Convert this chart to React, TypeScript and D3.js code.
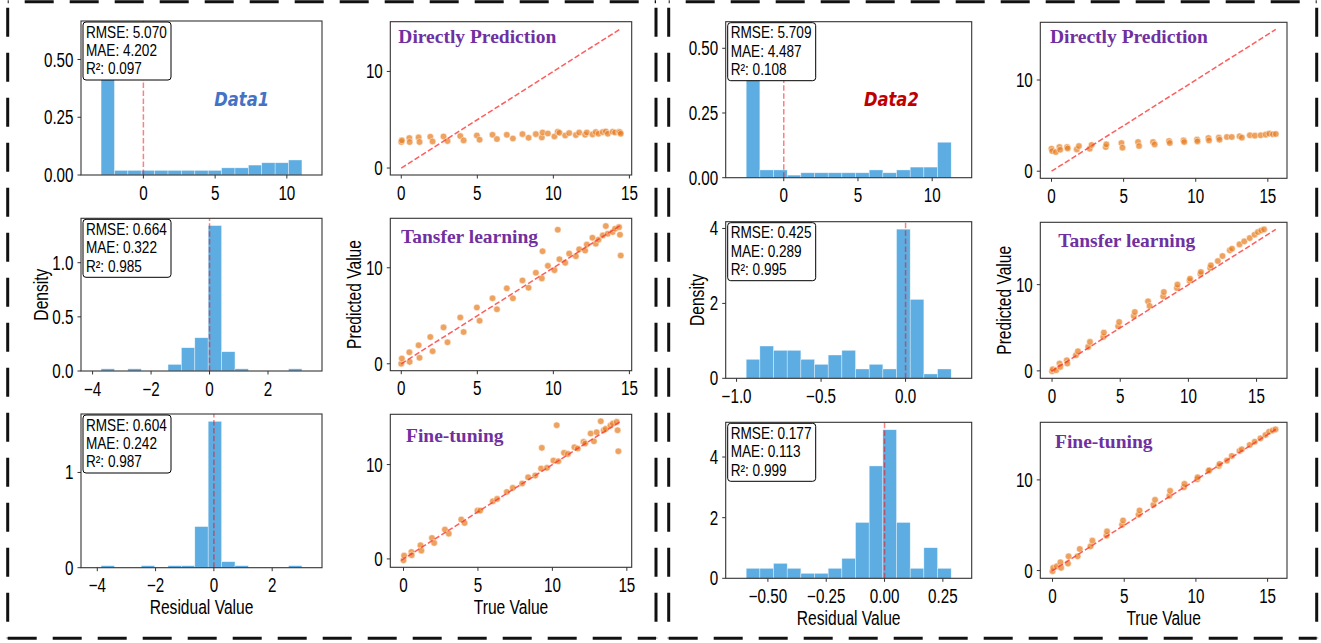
import React from 'react';
import * as d3 from 'd3';

// ---------------- DATA ----------------
// Data1 – true values shared by the three scatter panels
const trueValues1 = [0, 0.04, 0.53, 0.55, 1.14, 1.2, 1.91, 2.06, 2.78, 3.04, 3.88, 4.1, 4.97, 5.15, 6.0, 6.29, 6.94, 7.34, 7.97, 8.37, 8.85, 9.24, 9.29, 9.64, 10.07, 10.29, 10.4, 10.78, 11.04, 11.48, 11.7, 12.09, 12.2, 12.57, 12.79, 12.97, 13.25, 13.45, 13.58, 13.9, 14.06, 14.32, 14.38, 14.43];
const predDirect1 = [2.69, 2.86, 3.10, 2.69, 3.17, 2.69, 3.24, 2.75, 3.27, 2.79, 3.31, 2.86, 3.37, 2.93, 3.44, 3.00, 3.44, 3.06, 3.51, 3.13, 3.51, 3.17, 3.68, 3.58, 3.27, 3.75, 3.65, 3.37, 3.62, 3.41, 3.68, 3.44, 3.68, 3.48, 3.72, 3.55, 3.72, 3.79, 3.55, 3.75, 3.68, 3.75, 3.70, 3.55];
const predTransfer1 = [0.0, 0.55, 1.20, 0.20, 1.93, 0.62, 2.79, 1.31, 3.79, 2.24, 4.82, 3.31, 5.86, 4.48, 6.82, 5.68, 7.86, 6.82, 8.68, 7.92, 9.48, 8.89, 11.72, 10.20, 9.75, 13.96, 10.89, 10.51, 11.48, 11.20, 11.92, 11.79, 12.41, 13.13, 12.50, 12.92, 13.37, 14.34, 13.54, 13.72, 14.06, 14.23, 13.44, 11.27];
const predFine1 = [-0.15, 0.35, 0.74, 0.39, 1.45, 0.88, 2.22, 1.69, 3.11, 2.68, 4.17, 3.81, 5.12, 5.12, 6.11, 6.36, 7.10, 7.53, 7.99, 8.66, 8.83, 9.58, 11.77, 9.65, 10.42, 14.17, 10.35, 11.24, 11.13, 11.84, 11.70, 12.40, 12.23, 13.29, 12.47, 13.43, 14.59, 13.64, 13.78, 14.14, 14.35, 14.52, 13.64, 11.41];

// Data2 – true values shared by the three scatter panels
const trueValues2 = [0, 0.05, 0.3, 0.55, 0.6, 1.08, 1.12, 1.75, 1.9, 2.65, 2.78, 3.76, 3.8, 4.85, 4.92, 6.0, 6.07, 7.04, 7.15, 8.15, 8.2, 9.16, 9.2, 10.09, 10.12, 10.88, 10.92, 11.6, 11.65, 12.16, 12.5, 13.04, 13.2, 13.75, 14.1, 14.5, 14.85, 15.1, 15.35, 15.55];
const predDirect2 = [2.47, 2.21, 2.10, 2.65, 2.35, 2.65, 2.50, 2.39, 2.76, 2.47, 2.88, 2.65, 2.94, 3.09, 2.58, 3.20, 2.76, 3.20, 2.94, 3.31, 3.09, 3.38, 3.20, 3.46, 3.27, 3.64, 3.38, 3.68, 3.46, 3.75, 3.75, 3.83, 3.68, 3.94, 3.90, 3.94, 4.01, 4.12, 4.05, 4.08];
const predTransfer2 = [-0.04, 0.19, 0.08, 0.85, 0.46, 1.23, 0.85, 1.81, 2.28, 2.78, 3.36, 3.94, 4.44, 5.17, 5.67, 6.37, 6.83, 8.07, 7.53, 8.65, 9.15, 9.61, 10.0, 10.46, 10.69, 11.23, 11.47, 11.93, 12.24, 12.74, 13.32, 13.98, 14.17, 14.67, 15.02, 15.40, 15.79, 16.10, 16.29, 16.41];
const predFine2 = [-0.07, 0.30, 0.48, 0.92, 0.30, 0.77, 1.57, 1.57, 2.38, 2.67, 3.30, 3.85, 4.32, 5.05, 5.53, 6.15, 6.63, 7.25, 7.80, 8.24, 8.79, 9.19, 9.56, 10.07, 10.29, 10.99, 11.05, 11.54, 11.76, 12.12, 12.64, 13.19, 13.37, 13.85, 14.21, 14.58, 14.95, 15.31, 15.45, 15.57];

// Residual histograms (15 equal bins between range ends), density per bin
const residRangeDirect1 = [-2.95, 11.05];
const residDensDirect1 = [0.635, 0.02, 0.02, 0.02, 0.02, 0.02, 0.02, 0.02, 0.02, 0.031, 0.031, 0.043, 0.053, 0.053, 0.065];
const residRangeTransfer1 = [-3.71, 3.16];
const residDensTransfer1 = [0.02, 0, 0.02, 0, 0, 0.061, 0.215, 0.307, 1.343, 0.178, 0.02, 0, 0, 0, 0.02];
const residRangeFine1 = [-3.87, 3.02];
const residDensFine1 = [0.021, 0, 0, 0.021, 0, 0.021, 0.021, 0.432, 1.537, 0.063, 0.021, 0, 0, 0, 0.021];

const residRangeDirect2 = [-2.53, 11.28];
const residDensDirect2 = [0.574, 0.03, 0.03, 0.010, 0.019, 0.019, 0.019, 0.019, 0.019, 0.03, 0.019, 0.03, 0.041, 0.041, 0.137];
const residRangeTransfer2 = [-0.943, 0.270];
const residDensTransfer2 = [0.507, 0.862, 0.747, 0.747, 0.507, 0.373, 0.622, 0.747, 0.249, 0.373, 0.249, 3.982, 2.107, 0.116, 0.249];
const residRangeFine2 = [-0.593, 0.2857];
const residDensFine2 = [0.329, 0.329, 0.493, 0.329, 0.164, 0.164, 0.329, 0.658, 1.842, 3.706, 4.90, 1.842, 0.329, 1.009, 0.329];

// Metric boxes
const metricsDirect1 = ['RMSE: 5.070', 'MAE: 4.202', 'R²: 0.097'];
const metricsTransfer1 = ['RMSE: 0.664', 'MAE: 0.322', 'R²: 0.985'];
const metricsFine1 = ['RMSE: 0.604', 'MAE: 0.242', 'R²: 0.987'];
const metricsDirect2 = ['RMSE: 5.709', 'MAE: 4.487', 'R²: 0.108'];
const metricsTransfer2 = ['RMSE: 0.425', 'MAE: 0.289', 'R²: 0.995'];
const metricsFine2 = ['RMSE: 0.177', 'MAE: 0.113', 'R²: 0.999'];

// Tick values
const ticksHistDirectX = [0, 5, 10];
const ticksHistDirect1Y = [0, 0.25, 0.5];
const ticksHistData1X = [-4, -2, 0, 2];
const ticksHistTransfer1Y = [0, 0.5, 1.0];
const ticksHistFine1Y = [0, 1];
const ticksHistDirect2Y = [0, 0.25, 0.5];
const ticksHistTransfer2X = [-1.0, -0.5, 0.0];
const ticksHistFine2X = [-0.5, -0.25, 0, 0.25];
const ticksHistData2Y = [0, 2, 4];
const ticksScatterX = [0, 5, 10, 15];
const ticksScatterY = [0, 10];

const titles = ['Directly Prediction', 'Tansfer learning', 'Fine-tuning'];
const datasetNames = ['Data1', 'Data2'];

// ---------------- STYLE / LAYOUT ----------------
const SANS = "'Liberation Sans', Arial, Helvetica, sans-serif";
const SERIF = "'Liberation Serif', 'Times New Roman', serif";
const TICK_SIZE = 19.5;
const SX = 0.78;
const BAR = '#5dade2';
const DOT = '#e67e22';
const PURPLE = '#7030a0';

type Fr = { l: number; r: number; t: number; b: number };
const F: Record<string, Fr> = {
  A1: { l: 81, r: 322, t: 21, b: 175 },
  A2: { l: 81, r: 322, t: 218.3, b: 371 },
  A3: { l: 81, r: 322, t: 414, b: 567.7 },
  B1: { l: 390.3, r: 631.7, t: 21.7, b: 175 },
  B2: { l: 390.3, r: 631.7, t: 218.3, b: 370.7 },
  B3: { l: 390.3, r: 631.7, t: 414.3, b: 567.3 },
  C1: { l: 725.7, r: 971.7, t: 21.7, b: 177.7 },
  C2: { l: 725.7, r: 971.7, t: 221.7, b: 378.3 },
  C3: { l: 725.7, r: 971.7, t: 422.3, b: 578.3 },
  D1: { l: 1040.3, r: 1287, t: 22.3, b: 178.3 },
  D2: { l: 1040.3, r: 1287, t: 222.3, b: 378.3 },
  D3: { l: 1040.3, r: 1287, t: 422.3, b: 578.3 },
};

function CText(props: any) {
  const { x, y, size = TICK_SIZE, sx = SX, anchor = 'start', rotate = 0, fill = '#000', weight, fstyle, family = SANS, children } = props;
  const t = `translate(${x},${y})${rotate ? ` rotate(${rotate})` : ''} scale(${sx},1)`;
  return (
    <text transform={t} fontSize={size} fontFamily={family} textAnchor={anchor} fill={fill} fontWeight={weight} fontStyle={fstyle}>
      {children}
    </text>
  );
}

function Axes({ f, x, y, xTicks, yTicks, xFmt, yFmt, ylabel, ylabelDx, xlabel }: any) {
  return (
    <g>
      <rect x={f.l} y={f.t} width={f.r - f.l} height={f.b - f.t} fill="none" stroke="#333" strokeWidth={1.1} />
      {xTicks.map((v: number) => (
        <g key={'x' + v}>
          <line x1={x(v)} x2={x(v)} y1={f.b} y2={f.b + 3.5} stroke="#333" strokeWidth={1} />
          <CText x={x(v)} y={f.b + 24.5} anchor="middle">{xFmt(v)}</CText>
        </g>
      ))}
      {yTicks.map((v: number) => (
        <g key={'y' + v}>
          <line x1={f.l - 3.5} x2={f.l} y1={y(v)} y2={y(v)} stroke="#333" strokeWidth={1} />
          <CText x={f.l - 7.5} y={y(v) + 7} anchor="end">{yFmt(v)}</CText>
        </g>
      ))}
      {ylabel && (
        <CText x={f.l + ylabelDx + 7} y={(f.t + f.b) / 2} rotate={-90} anchor="middle" sx={0.8}>{ylabel}</CText>
      )}
      {xlabel && (
        <CText x={(f.l + f.r) / 2} y={f.b + 46.5} anchor="middle" sx={0.8}>{xlabel}</CText>
      )}
    </g>
  );
}

function Hist({ f, range, dens, xTicks, yTicks, xFmt, yFmt, metrics, ylabel, ylabelDx, xlabel, tag, tagColor, tagPos }: any) {
  const [lo, hi] = range;
  const span = hi - lo;
  const x = d3.scaleLinear().domain([lo - 0.1 * span, hi + 0.1 * span]).range([f.l, f.r]);
  const ymax = (d3.max(dens) as number) * 1.05;
  const y = d3.scaleLinear().domain([0, ymax]).range([f.b, f.t]);
  const w = span / dens.length;
  return (
    <g>
      {dens.map((d: number, i: number) =>
        d > 0 ? (
          <rect key={i} x={x(lo + i * w)} width={x(lo + (i + 1) * w) - x(lo + i * w)} y={y(Math.min(d, ymax))}
            height={y(0) - y(Math.min(d, ymax))} fill={BAR} stroke="#ffffff" strokeOpacity={0.6} strokeWidth={0.6} />
        ) : null
      )}
      <line x1={x(0)} x2={x(0)} y1={f.b} y2={f.t} stroke="red" strokeOpacity={0.5} strokeWidth={1.5} strokeDasharray="5.5 2.4" />
      <Axes f={f} x={x} y={y} xTicks={xTicks} yTicks={yTicks} xFmt={xFmt} yFmt={yFmt} ylabel={ylabel} ylabelDx={ylabelDx} xlabel={xlabel} />
      <rect x={f.l + 2} y={f.t + 1} width={88} height={58} rx={3} fill="#fff" stroke="#000" strokeWidth={1} />
      {metrics.map((m: string, i: number) => (
        <CText key={m} x={f.l + 5} y={f.t + 16.5 + i * 18.4} size={16} sx={0.85}>{m}</CText>
      ))}
      {tag && (
        <CText x={f.l + tagPos[0]} y={f.t + tagPos[1]} size={19} sx={0.86} fill={tagColor} weight="bold" fstyle="italic" family="'DejaVu Sans', sans-serif">{tag}</CText>
      )}
    </g>
  );
}

function Scatter({ f, xs, ys, title, tpos, ylabel, ylabelDx, xlabel }: any) {
  const lo = Math.min(d3.min(xs) as number, d3.min(ys) as number);
  const hi = Math.max(d3.max(xs) as number, d3.max(ys) as number);
  const pad = 0.05 * (hi - lo);
  const x = d3.scaleLinear().domain([lo - pad, hi + pad]).range([f.l, f.r]);
  const y = d3.scaleLinear().domain([lo - pad, hi + pad]).range([f.b, f.t]);
  const line = d3.line()([[x(lo), y(lo)], [x(hi), y(hi)]]) as string;
  const fmt = d3.format('d');
  return (
    <g>
      {xs.map((v: number, i: number) => (
        <circle key={i} cx={x(v)} cy={y(ys[i])} r={3.3} fill={DOT} fillOpacity={0.72} stroke="#fff" strokeWidth={0.5} />
      ))}
      <path d={line} stroke="#ff3333" strokeOpacity={0.8} strokeWidth={1.5} strokeDasharray="5.5 2.4" fill="none" />
      <Axes f={f} x={x} y={y} xTicks={ticksScatterX} yTicks={ticksScatterY} xFmt={fmt} yFmt={fmt} ylabel={ylabel} ylabelDx={ylabelDx} xlabel={xlabel} />
      <text x={f.l + tpos[0]} y={f.t + tpos[1]} fontFamily={SERIF} fontWeight="bold" fontSize={19.5} fill={PURPLE}>{title}</text>
    </g>
  );
}

function Border({ x0, y0, x1, y1 }: any) {
  const s = { stroke: '#111', strokeWidth: 3, strokeDasharray: '29 16' } as any;
  return (
    <g>
      <line x1={x0} y1={y0} x2={x1} y2={y0} {...s} strokeDashoffset={-17} />
      <line x1={x0} y1={y1} x2={x1} y2={y1} {...s} />
      <line x1={x0} y1={y0} x2={x0} y2={y1} {...s} strokeDashoffset={-6} />
      <line x1={x1} y1={y0} x2={x1} y2={y1} {...s} strokeDashoffset={-6} />
    </g>
  );
}

export default function App() {
  const f2 = d3.format('.2f');
  const f1 = d3.format('.1f');
  const fd = d3.format('d');
  return (
    <svg width={1321} height={643} style={{ position: 'absolute', left: 0, top: 0, background: '#fff' }}>
      <rect x={0} y={0} width={1321} height={643} fill="#fff" />
      <Border x0={7.7} y0={1.7} x1={656} y1={638.3} />
      <Border x0={668.7} y0={1.7} x1={1316.7} y1={638.3} />

      {/* Data1 residual histograms */}
      <Hist f={F.A1} range={residRangeDirect1} dens={residDensDirect1} xTicks={ticksHistDirectX} yTicks={ticksHistDirect1Y}
        xFmt={fd} yFmt={f2} metrics={metricsDirect1} tag={datasetNames[0]} tagColor="#4472c4" tagPos={[133.3, 85]} />
      <Hist f={F.A2} range={residRangeTransfer1} dens={residDensTransfer1} xTicks={ticksHistData1X} yTicks={ticksHistTransfer1Y}
        xFmt={fd} yFmt={f1} metrics={metricsTransfer1} ylabel="Density" ylabelDx={-40} />
      <Hist f={F.A3} range={residRangeFine1} dens={residDensFine1} xTicks={ticksHistData1X} yTicks={ticksHistFine1Y}
        xFmt={fd} yFmt={fd} metrics={metricsFine1} xlabel="Residual Value" />

      {/* Data1 scatter */}
      <Scatter f={F.B1} xs={trueValues1} ys={predDirect1} title={titles[0]} tpos={[8, 21.6]} />
      <Scatter f={F.B2} xs={trueValues1} ys={predTransfer1} title={titles[1]} tpos={[10.7, 25]} ylabel="Predicted Value" ylabelDx={-36.8} />
      <Scatter f={F.B3} xs={trueValues1} ys={predFine1} title={titles[2]} tpos={[15.7, 27.4]} xlabel="True Value" />

      {/* Data2 residual histograms */}
      <Hist f={F.C1} range={residRangeDirect2} dens={residDensDirect2} xTicks={ticksHistDirectX} yTicks={ticksHistDirect2Y}
        xFmt={fd} yFmt={f2} metrics={metricsDirect2} tag={datasetNames[1]} tagColor="#c00000" tagPos={[138.3, 84.3]} />
      <Hist f={F.C2} range={residRangeTransfer2} dens={residDensTransfer2} xTicks={ticksHistTransfer2X} yTicks={ticksHistData2Y}
        xFmt={f1} yFmt={fd} metrics={metricsTransfer2} ylabel="Density" ylabelDx={-28.7} />
      <Hist f={F.C3} range={residRangeFine2} dens={residDensFine2} xTicks={ticksHistFine2X} yTicks={ticksHistData2Y}
        xFmt={f2} yFmt={fd} metrics={metricsFine2} xlabel="Residual Value" />

      {/* Data2 scatter */}
      <Scatter f={F.D1} xs={trueValues2} ys={predDirect2} title={titles[0]} tpos={[9.7, 20.4]} />
      <Scatter f={F.D2} xs={trueValues2} ys={predTransfer2} title={titles[1]} tpos={[18, 24.4]} ylabel="Predicted Value" ylabelDx={-36.8} />
      <Scatter f={F.D3} xs={trueValues2} ys={predFine2} title={titles[2]} tpos={[14.7, 26]} xlabel="True Value" />
    </svg>
  );
}
